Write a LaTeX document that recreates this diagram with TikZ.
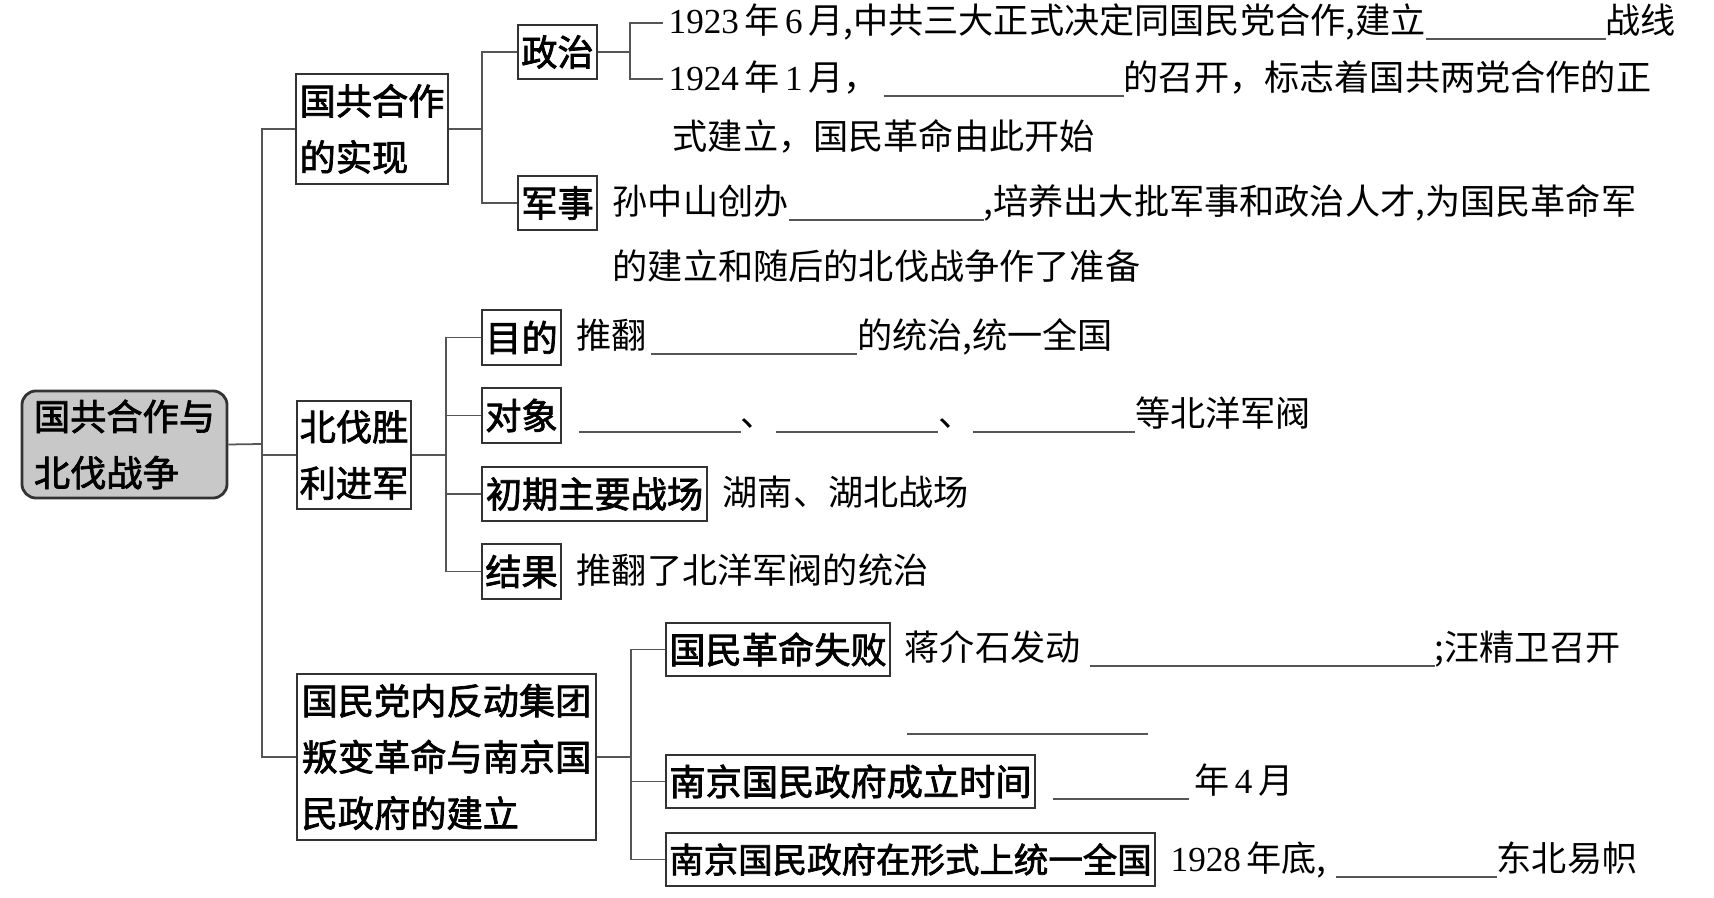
\documentclass[tikz,border=0pt]{standalone}
\usepackage{fontspec}
\setmainfont{Noto Sans CJK SC}
\newfontfamily\numfont{Liberation Serif}
\newfontfamily\labelcjk[FakeBold=2]{Noto Sans CJK SC}
\definecolor{linegray}{HTML}{555555}
\definecolor{rootgray}{HTML}{C8C8C8}
\newcommand{\bodyfont}{\fontsize{10pt}{16pt}\selectfont}
\newcommand{\labelfont}{\labelcjk\fontsize{10.3pt}{16pt}\selectfont}
\newcommand{\nm}[1]{{\numfont #1}}
\newcommand{\blank}[1]{{\color{linegray}\rule[-0.06cm]{#1}{0.02cm}}}
\newcommand{\sep}{\hspace{0.055cm}}

\begin{document}
\begin{tikzpicture}[x=0.01cm, y=-0.01cm,
    topic/.style={draw=black!80, line width=0.5pt, font=\labelfont, align=left, inner sep=0pt},
    rootbox/.style={topic, rounded corners=4pt, fill=rootgray, line width=0.8pt},
    link/.style={draw=linegray, line width=0.5pt},
    txt/.style={anchor=base west, inner sep=0pt, font=\bodyfont}
]
    \useasboundingbox (0,0) rectangle (1714,898);

    % root and first level
    \node[rootbox, minimum width=2.05cm, minimum height=1.07cm] (root) at (124.5,444.5) {国共合作与\\北伐战争};
    \node[topic, minimum width=1.52cm, minimum height=1.10cm] (coop) at (372,129) {国共合作\\的实现};
    \node[topic, minimum width=1.14cm, minimum height=1.08cm] (north) at (354,455) {北伐胜\\利进军};
    \node[topic, minimum width=2.99cm, minimum height=1.66cm] (split) at (446.5,757) {国民党内反动集团\\叛变革命与南京国\\民政府的建立};

    % second level
    \node[topic, minimum width=0.79cm, minimum height=0.54cm] (pol) at (557.5,52) {政治};
    \node[topic, minimum width=0.79cm, minimum height=0.54cm] (mil) at (557.5,203) {军事};
    \node[topic, minimum width=0.79cm, minimum height=0.55cm] (aim) at (521.5,337.5) {目的};
    \node[topic, minimum width=0.79cm, minimum height=0.55cm] (foe) at (521.5,415.5) {对象};
    \node[topic, minimum width=2.25cm, minimum height=0.54cm] (front) at (594.5,494) {初期主要战场};
    \node[topic, minimum width=0.79cm, minimum height=0.55cm] (result) at (521.5,571.5) {结果};
    \node[topic, minimum width=2.24cm, minimum height=0.53cm] (fail) at (778,649.5) {国民革命失败};
    \node[topic, minimum width=3.69cm, minimum height=0.53cm] (found) at (850.5,781.5) {南京国民政府成立时间};
    \node[topic, minimum width=4.89cm, minimum height=0.53cm, font=\labelcjk\fontsize{9.8pt}{16pt}\selectfont] (unify) at (910.5,859.5) {南京国民政府在形式上统一全国};

    % connectors
    \coordinate (j0) at (262,444);
    \draw[link] (root.east) -- (j0);
    \draw[link] (coop.west) -| (j0) |- (split.west);
    \draw[link] (north.west) -- (north.west -| j0);

    \coordinate (j1) at (482,129);
    \draw[link] (coop.east) -- (j1);
    \draw[link] (pol.west) -| (j1) |- (mil.west);

    \coordinate (j2) at (630,52);
    \coordinate (p1) at (663,23);
    \coordinate (p2) at (663,79);
    \draw[link] (pol.east) -- (j2);
    \draw[link] (p1) -| (j2) |- (p2);

    \coordinate (j3) at (446,455);
    \draw[link] (north.east) -- (j3);
    \draw[link] (aim.west) -| (j3) |- (result.west);
    \draw[link] (foe.west) -- (foe.west -| j3);
    \draw[link] (front.west) -- (front.west -| j3);

    \coordinate (j4) at (631,757);
    \draw[link] (split.east) -- (j4);
    \draw[link] (fail.west) -| (j4) |- (unify.west);
    \draw[link] (found.west) -- (found.west -| j4);

    % texts
    \node[txt] (t1) at (668,34) {\nm{1923}\sep 年\sep\nm{6}\sep 月,中共三大正式决定同国民党合作,建立\blank{1.80cm}战线};
    \node[txt] (t2) at (668,91) {\nm{1924}\sep 年\sep\nm{1}\sep 月，\hspace{0.05cm}\blank{2.40cm}的召开，标志着国共两党合作的正};
    \node[txt] (t3) at (672,150) {式建立，国民革命由此开始};
    \node[txt] (t4) at (612,215) {孙中山创办\blank{1.95cm},培养出大批军事和政治人才,为国民革命军};
    \node[txt] (t5) at (612,280) {的建立和随后的北伐战争作了准备};
    \node[txt] (t6) at (576,349) {推翻\hspace{0.04cm}\blank{2.06cm}的统治,统一全国};
    \node[txt] (t7) at (578,427) {\blank{1.62cm}、\blank{1.62cm}、\blank{1.62cm}等北洋军阀};
    \node[txt] (t8) at (722,506) {湖南、湖北战场};
    \node[txt] (t9) at (576,584) {推翻了北洋军阀的统治};
    \node[txt] (t10) at (904,661) {蒋介石发动\hspace{0.09cm}\blank{3.45cm};汪精卫召开};
    \node[txt] (t11) at (906,729) {\blank{2.41cm}};
    \node[txt] (t12) at (1052,794) {\blank{1.36cm}\sep 年\sep\nm{4}\sep 月};
    \node[txt] (t13) at (1170,872) {\nm{1928}\sep 年底,\hspace{0.09cm}\blank{1.61cm}东北易帜};
\end{tikzpicture}
\end{document}
